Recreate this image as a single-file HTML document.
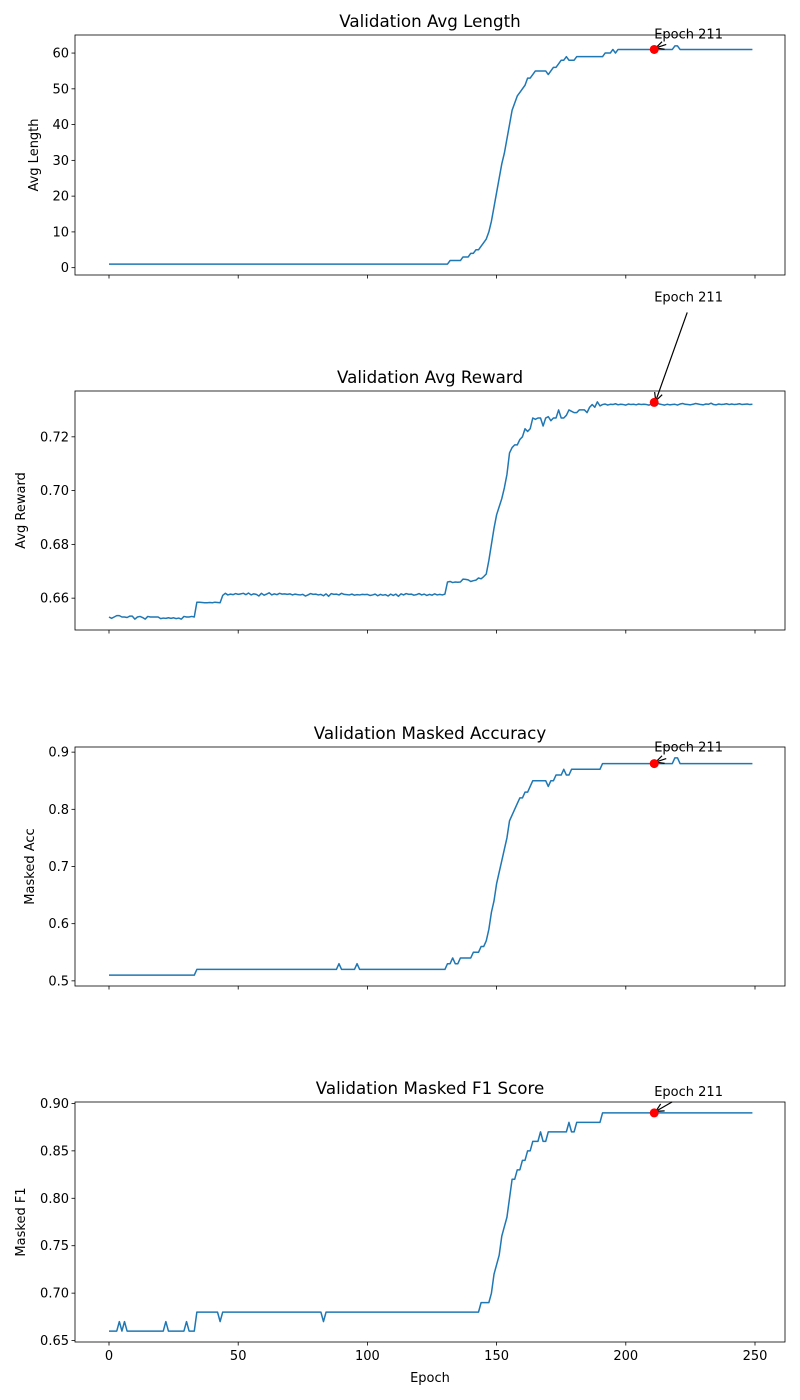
<!DOCTYPE html>
<html><head><meta charset="utf-8">
<style>
html,body{margin:0;padding:0;background:#fff;}
svg{display:block;font-family:"DejaVu Sans","Liberation Sans",sans-serif;}
</style></head>
<body>
<svg id="chart" width="800" height="1400" viewBox="0 0 800 1400" xmlns="http://www.w3.org/2000/svg"></svg>
<script>
const epochs = [];
for (let i = 0; i < 250; i++) epochs.push(i);
const xTicks = [0, 50, 100, 150, 200, 250];
const bestEpoch = 211;

const lengthVals = [
1,1,1,1,1,1,1,1,1,1,1,1,1,1,1,1,1,1,1,1,
1,1,1,1,1,1,1,1,1,1,1,1,1,1,1,1,1,1,1,1,
1,1,1,1,1,1,1,1,1,1,1,1,1,1,1,1,1,1,1,1,
1,1,1,1,1,1,1,1,1,1,1,1,1,1,1,1,1,1,1,1,
1,1,1,1,1,1,1,1,1,1,1,1,1,1,1,1,1,1,1,1,
1,1,1,1,1,1,1,1,1,1,1,1,1,1,1,1,1,1,1,1,
1,1,1,1,1,1,1,1,1,1,1,1,
2,2,2,2,2,3,3,3,4,4,5,5,6,7,8,10,13,17,21,25,
29,32,36,40,44,46,48,49,50,51,53,53,54,55,55,55,55,55,54,55,
56,56,57,58,58,59,58,58,58,59,59,59,59,59,59,59,59,59,59,59,
60,60,60,61,60,61,61,61,61,61,61,61,61,61,61,61,61,61,61,61,
61,61,61,61,61,61,61,62,62,61,61,61,61,61,61,61,61,61,61,61,
61,61,61,61,61,61,61,61,61,61,61,61,61,61,61,61,61,61];
const lengthTicks = [0,10,20,30,40,50,60];

const rewardVals = [
0.653,0.6525,0.653,0.6535,0.6535,0.653,0.653,0.6528,0.6533,0.6533,
0.6522,0.653,0.6532,0.6528,0.6522,0.6532,0.653,0.653,0.653,0.653,
0.6524,0.6526,0.6525,0.6527,0.6525,0.6527,0.6524,0.6526,0.6522,0.6532,
0.653,0.653,0.6532,0.653,
0.6585,0.6585,0.6584,0.6583,0.6583,0.6584,0.6583,0.6585,0.6584,0.6583,
0.661,0.6618,0.6612,0.6615,0.6613,0.6617,
0.6614,0.6616,0.6618,0.6613,0.6619,0.6612,0.6616,0.6614,0.6608,0.6618,
0.6611,0.6615,0.662,0.6612,0.6616,0.6613,0.6618,0.6615,0.6616,0.6614,
0.6616,0.6612,0.6615,0.6613,0.6612,0.6614,0.6608,0.6612,0.6617,0.6614,
0.6615,0.6612,0.6614,0.6609,0.6616,0.6607,0.6617,0.6614,0.6615,0.6612,
0.6618,0.6614,0.6613,0.6612,0.6615,0.6611,0.6613,0.6612,0.6614,0.6613,
0.6614,0.661,0.6612,0.6615,0.6609,0.6614,0.6611,0.6613,0.6608,0.6615,
0.661,0.6615,0.6607,0.6616,0.6612,0.6617,0.6614,0.6615,0.6611,0.6613,
0.6617,0.6612,0.6615,0.661,0.6614,0.6611,0.6616,0.6612,0.6614,0.6612,
0.6615,
0.666,0.6662,0.6658,0.666,0.6659,0.666,0.6671,0.667,0.6668,
0.6662,0.6665,0.6667,0.6675,0.6672,
0.668,0.669,0.674,0.68,0.686,0.691,0.694,0.697,0.701,0.706,
0.714,0.716,0.717,0.717,0.719,0.720,0.723,0.722,0.723,0.727,
0.7265,0.727,0.727,0.724,0.727,0.7275,0.726,0.727,0.727,0.730,
0.727,0.727,0.728,0.730,0.7295,0.729,0.729,0.730,0.730,0.730,
0.729,0.731,0.732,0.731,0.733,0.7315,
0.732,0.7322,0.7318,0.7321,0.732,0.7323,0.7319,0.7321,0.732,0.7318,
0.7322,0.732,0.7321,0.7319,0.7322,0.732,0.7321,0.732,0.7318,0.7322,
0.7328,0.7325,0.7322,0.732,0.7318,0.7321,0.7319,0.732,0.7321,0.7318,
0.7322,0.7324,0.7321,0.732,0.7319,0.7321,0.7324,0.7322,0.732,0.7319,
0.7322,0.7321,0.7325,0.732,0.7319,0.7322,0.732,0.7321,0.7323,0.732,
0.7322,0.732,0.7321,0.7323,0.732,0.7321,0.7322,0.732,0.7321];
const rewardTicks = [0.66,0.68,0.70,0.72];

const accVals = [
0.51,0.51,0.51,0.51,0.51,0.51,0.51,0.51,0.51,0.51,0.51,0.51,0.51,0.51,0.51,0.51,0.51,0.51,0.51,0.51,
0.51,0.51,0.51,0.51,0.51,0.51,0.51,0.51,0.51,0.51,0.51,0.51,0.51,0.51,
0.52,0.52,0.52,0.52,0.52,0.52,0.52,0.52,0.52,0.52,0.52,0.52,0.52,0.52,0.52,0.52,0.52,0.52,0.52,0.52,
0.52,0.52,0.52,0.52,0.52,0.52,0.52,0.52,0.52,0.52,0.52,0.52,0.52,0.52,0.52,0.52,0.52,0.52,0.52,0.52,
0.52,0.52,0.52,0.52,0.52,0.52,0.52,0.52,0.52,0.52,0.52,0.52,0.52,0.52,0.52,0.53,0.52,0.52,0.52,0.52,
0.52,0.52,0.53,0.52,0.52,0.52,0.52,0.52,0.52,0.52,0.52,0.52,0.52,0.52,0.52,0.52,0.52,0.52,0.52,0.52,
0.52,0.52,0.52,0.52,0.52,0.52,0.52,0.52,0.52,0.52,0.52,0.52,0.52,0.52,0.52,0.52,0.52,
0.53,0.53,0.54,0.53,0.53,0.54,0.54,0.54,0.54,0.54,0.55,0.55,0.55,0.56,0.56,0.57,0.59,0.62,0.64,
0.67,0.69,0.71,0.73,0.75,0.78,0.79,0.80,0.81,0.82,0.82,0.83,0.83,0.84,0.85,0.85,0.85,0.85,0.85,0.85,
0.84,0.85,0.85,0.86,0.86,0.86,0.87,0.86,0.86,0.87,0.87,0.87,0.87,0.87,0.87,0.87,0.87,0.87,0.87,0.87,0.87,
0.88,0.88,0.88,0.88,0.88,0.88,0.88,0.88,0.88,0.88,0.88,0.88,0.88,0.88,0.88,0.88,0.88,0.88,0.88,0.88,
0.88,0.88,0.88,0.88,0.88,0.88,0.88,0.88,0.89,0.89,0.88,0.88,0.88,0.88,0.88,0.88,0.88,0.88,0.88,0.88,
0.88,0.88,0.88,0.88,0.88,0.88,0.88,0.88,0.88,0.88,0.88,0.88,0.88,0.88,0.88,0.88,0.88,0.88,0.88];
const accTicks = [0.5,0.6,0.7,0.8,0.9];

const f1Vals = [
0.66,0.66,0.66,0.66,0.67,0.66,0.67,0.66,0.66,0.66,0.66,0.66,0.66,0.66,0.66,0.66,0.66,0.66,0.66,0.66,
0.66,0.66,0.67,0.66,0.66,0.66,0.66,0.66,0.66,0.66,0.67,0.66,0.66,0.66,
0.68,0.68,0.68,0.68,0.68,0.68,0.68,0.68,0.68,0.67,
0.68,0.68,0.68,0.68,0.68,0.68,0.68,0.68,0.68,0.68,0.68,0.68,0.68,0.68,0.68,0.68,0.68,0.68,0.68,0.68,
0.68,0.68,0.68,0.68,0.68,0.68,0.68,0.68,0.68,0.68,0.68,0.68,0.68,0.68,0.68,0.68,0.68,0.68,0.68,
0.67,
0.68,0.68,0.68,0.68,0.68,0.68,0.68,0.68,0.68,0.68,0.68,0.68,0.68,0.68,0.68,0.68,0.68,0.68,0.68,0.68,
0.68,0.68,0.68,0.68,0.68,0.68,0.68,0.68,0.68,0.68,0.68,0.68,0.68,0.68,0.68,0.68,0.68,0.68,0.68,0.68,
0.68,0.68,0.68,0.68,0.68,0.68,0.68,0.68,0.68,0.68,0.68,0.68,0.68,0.68,0.68,0.68,0.68,0.68,0.68,0.68,
0.69,0.69,0.69,0.69,0.70,0.72,0.73,0.74,0.76,0.77,0.78,0.80,0.82,0.82,0.83,0.83,0.84,0.84,0.85,0.85,
0.86,0.86,0.86,0.87,0.86,0.86,0.87,0.87,0.87,0.87,0.87,0.87,0.87,0.87,0.88,0.87,0.87,
0.88,0.88,0.88,0.88,0.88,0.88,0.88,0.88,0.88,0.88,
0.89,0.89,0.89,0.89,0.89,0.89,0.89,0.89,0.89,0.89,0.89,0.89,0.89,0.89,0.89,0.89,0.89,0.89,0.89,0.89,
0.89,0.89,0.89,0.89,0.89,0.89,0.89,0.89,0.89,0.89,0.89,0.89,0.89,0.89,0.89,0.89,0.89,0.89,0.89,0.89,
0.89,0.89,0.89,0.89,0.89,0.89,0.89,0.89,0.89,0.89,0.89,0.89,0.89,0.89,0.89,0.89,0.89,0.89,0.89];
const f1Ticks = [0.65,0.70,0.75,0.80,0.85,0.90];
const f1TickLabels = ["0.65","0.70","0.75","0.80","0.85","0.90"];

const NS = "http://www.w3.org/2000/svg";
const svg = document.getElementById("chart");
function mk(tag, attrs, parent) {
  const e = document.createElementNS(NS, tag);
  for (const k in attrs) e.setAttribute(k, attrs[k]);
  (parent || svg).appendChild(e);
  return e;
}
const defs = mk("defs", {});
const marker = mk("marker", {id:"ah", markerWidth:"10", markerHeight:"10", refX:"9", refY:"5", orient:"auto", markerUnits:"userSpaceOnUse"}, defs);
mk("path", {d:"M1,1 L9,5 L1,9", fill:"none", stroke:"#000", "stroke-width":"1.2"}, marker);

const L = 75, R = 785;
function xs(v) { return 109 + v * (755 - 109) / 250; }

const panels = [
  {key:"avg-length", title:"Validation Avg Length", ylabel:"Avg Length", vals:lengthVals, ticks:lengthTicks, labels:lengthTicks.map(String), top:35, bot:275, ylabX:38, annOff:[0,-7], annArrow:[12,-5]},
  {key:"avg-reward", title:"Validation Avg Reward", ylabel:"Avg Reward", vals:rewardVals, ticks:rewardTicks, labels:["0.66","0.68","0.70","0.72"], top:391, bot:630, ylabX:25, annOff:[0,-97], annArrow:[33,-90]},
  {key:"masked-acc", title:"Validation Masked Accuracy", ylabel:"Masked Acc", vals:accVals, ticks:accTicks, labels:["0.5","0.6","0.7","0.8","0.9"], top:747, bot:986, ylabX:34, annOff:[0,-8], annArrow:[12,-5]},
  {key:"masked-f1", title:"Validation Masked F1 Score", ylabel:"Masked F1", vals:f1Vals, ticks:f1Ticks, labels:f1TickLabels, top:1102, bot:1342, ylabX:25, annOff:[0,-13], annArrow:[18,-11]}
];

panels.forEach((p, pi) => {
  const mn = Math.min(...p.vals), mx = Math.max(...p.vals);
  const pad = (mx - mn) * 0.05;
  const y0 = mn - pad, y1 = mx + pad;
  const ys = v => p.bot - (v - y0) / (y1 - y0) * (p.bot - p.top);
  const g = mk("g", {});
  
  

  const t = mk("text", {x:(L+R)/2, y:p.top-8, "text-anchor":"middle", "font-size":"16.7", fill:"#000"}, g);
  t.textContent = p.title;
  
  

  const yl = mk("text", {x:p.ylabX, y:(p.top+p.bot)/2, "text-anchor":"middle", "font-size":"13", transform:"rotate(-90 " + p.ylabX + " " + (p.top+p.bot)/2 + ")"}, g);
  yl.textContent = p.ylabel;
  
  

  p.ticks.forEach((tv, i) => {
    const y = ys(tv);
    mk("line", {x1:L-3.5, x2:L, y1:y, y2:y, stroke:"#000", "stroke-width":"0.8"}, g);
    const tl = mk("text", {x:L-6, y:y+4.5, "text-anchor":"end", "font-size":"13"}, g);
    tl.textContent = p.labels[i];
    
    
  });
  xTicks.forEach(tv => {
    const x = xs(tv);
    mk("line", {x1:x, x2:x, y1:p.bot, y2:p.bot+3.5, stroke:"#000", "stroke-width":"0.8"}, g);
    if (pi === 3) {
      const tl = mk("text", {x:x, y:p.bot+18, "text-anchor":"middle", "font-size":"13"}, g);
      tl.textContent = String(tv);
      
      
    }
  });

  let d = "";
  p.vals.forEach((v, i) => { d += (i ? "L" : "M") + xs(epochs[i]).toFixed(2) + "," + ys(v).toFixed(2); });
  const line = mk("path", {d:d, fill:"none", stroke:"#1f77b4", "stroke-width":"1.5", "stroke-linejoin":"round"}, g);
  
  

  const bx = xs(bestEpoch), by = ys(p.vals[bestEpoch]);
  const tx = bx + p.annOff[0], ty = by + p.annOff[1];
  const ann = mk("text", {x:tx, y:ty - 4, "font-size":"13"}, g);
  ann.textContent = "Epoch " + bestEpoch;
  
  
  const arr = mk("line", {x1:bx + p.annArrow[0], y1:by + p.annArrow[1], x2:bx + 1.5, y2:by - 1.5, stroke:"#000", "stroke-width":"1.2", "marker-end":"url(#ah)"}, g);
  
  
  const dot = mk("circle", {cx:bx, cy:by, r:4.5, fill:"#ff0000"}, g);
  
  

  const frame = mk("rect", {x:L, y:p.top, width:R-L, height:p.bot-p.top, fill:"none", stroke:"#000", "stroke-width":"0.8"}, g);
  
  
});

const xl = mk("text", {x:(L+R)/2, y:1382, "text-anchor":"middle", "font-size":"13"});
xl.textContent = "Epoch";


</script>
</body></html>
